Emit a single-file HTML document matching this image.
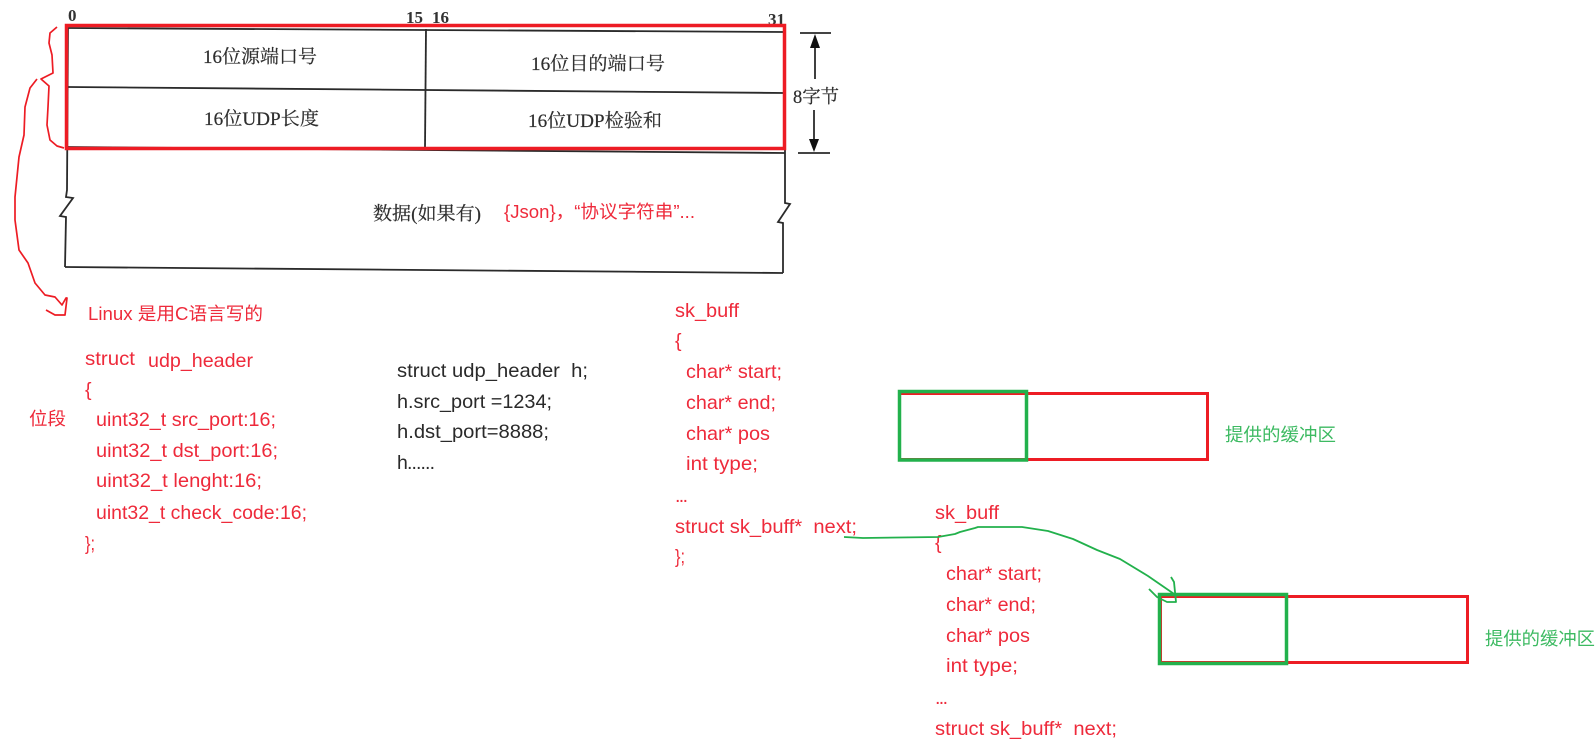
<!DOCTYPE html>
<html><head><meta charset="utf-8">
<style>
html,body{margin:0;padding:0;background:#fff;width:1595px;height:741px;overflow:hidden}
svg{display:block}
.t text{font-family:"Liberation Sans","Noto Sans CJK SC",sans-serif;font-size:19.5px;fill:#ee2a3a}
.t text.c{font-size:18px}
.k text{fill:#2a2a2a}
.g text{fill:#3dba62;font-size:18px}
.s text{font-family:"Liberation Serif","Noto Serif CJK SC",serif;font-size:18.5px;fill:#2e2e2e;stroke:#2e2e2e;stroke-width:.2}
.n text{font-family:"Liberation Serif",serif;font-weight:bold;font-size:17px;fill:#333}
</style></head><body>
<svg width="1595" height="741" viewBox="0 0 1595 741" xmlns="http://www.w3.org/2000/svg">
<defs><filter id="b" x="-2%" y="-2%" width="104%" height="104%"><feGaussianBlur stdDeviation="0.35"/></filter></defs>

<g fill="none" stroke="#2a2a2a" stroke-width="1.8" filter="url(#b)">
<path d="M68 28L785 32"/><path d="M68 87L785 93"/><path d="M67 147L785 153"/><path d="M65 267L783 273"/>
<path d="M68 28L67 190L66 197L73 198L60 216L66 217L65 267"/>
<path d="M785 32L785 203L790 204L778 222L783 223L783 273"/>
<path d="M426 29L425 148"/>
<path d="M800 33H831"/><path d="M798 153H830"/>
<path d="M815 40V79"/><path d="M814 110V145"/>
</g>
<path d="M815 34L810 48H820Z" fill="#111"/><path d="M814 152L809 139H819Z" fill="#111"/>

<g class="n" filter="url(#b)">
<text x="68" y="21">0</text>
<text x="406" y="23">15</text>
<text x="432" y="23">16</text>
<text x="768" y="25">31</text>
</g>
<g class="s" filter="url(#b)">
<text x="203" y="63" textLength="114" lengthAdjust="spacingAndGlyphs">16位源端口号</text>
<text x="204" y="125" textLength="115" lengthAdjust="spacingAndGlyphs">16位UDP长度</text>
<text x="531" y="70" textLength="134" lengthAdjust="spacingAndGlyphs">16位目的端口号</text>
<text x="528" y="127" textLength="134" lengthAdjust="spacingAndGlyphs">16位UDP检验和</text>
<text x="373" y="220" textLength="108" lengthAdjust="spacingAndGlyphs">数据(如果有)</text>
<text x="793" y="103" textLength="46" lengthAdjust="spacingAndGlyphs">8字节</text>
</g>

<rect x="66.5" y="25.5" width="718" height="123" fill="none" stroke="#ed1c24" stroke-width="3.5"/>

<g fill="none" stroke="#ed1c24" stroke-width="1.7" stroke-linejoin="round">
<path d="M57 27L50 33L49 43L52 55L53 73L41 79L49 86L48 107L47 125L50 140L57 146L64 148"/>
<path d="M37 79L30 88L25 107L24 135L19 157L15 197L15 220L19 250L28 263L35 283L45 295L55 297L62 305L66 298L67 298L65 315L55 315L46 310"/>
</g>

<g class="t" filter="url(#b)">
<text class="c" x="504" y="218" textLength="191" lengthAdjust="spacingAndGlyphs">{Json}，“协议字符串”...</text>
<text class="c" x="88" y="320" textLength="175" lengthAdjust="spacingAndGlyphs">Linux 是用C语言写的</text>
<text class="c" x="29" y="425" textLength="37" lengthAdjust="spacingAndGlyphs">位段</text>
<text x="85" y="365" textLength="50" lengthAdjust="spacingAndGlyphs">struct</text>
<text x="148" y="367" textLength="105" lengthAdjust="spacingAndGlyphs">udp_header</text>
<text x="85" y="396">{</text>
<text x="96" y="426" textLength="180" lengthAdjust="spacingAndGlyphs">uint32_t src_port:16;</text>
<text x="96" y="457" textLength="182" lengthAdjust="spacingAndGlyphs">uint32_t dst_port:16;</text>
<text x="96" y="487" textLength="166" lengthAdjust="spacingAndGlyphs">uint32_t lenght:16;</text>
<text x="96" y="519" textLength="211" lengthAdjust="spacingAndGlyphs">uint32_t check_code:16;</text>
<text x="85" y="550" textLength="10" lengthAdjust="spacingAndGlyphs">};</text>

<text x="675" y="317" textLength="64" lengthAdjust="spacingAndGlyphs">sk_buff</text>
<text x="675" y="347">{</text>
<text x="686" y="378" textLength="96" lengthAdjust="spacingAndGlyphs">char* start;</text>
<text x="686" y="409" textLength="90" lengthAdjust="spacingAndGlyphs">char* end;</text>
<text x="686" y="440" textLength="84" lengthAdjust="spacingAndGlyphs">char* pos</text>
<text x="686" y="470" textLength="72" lengthAdjust="spacingAndGlyphs">int type;</text>
<text x="675" y="502" textLength="13" lengthAdjust="spacing">...</text>
<text x="675" y="533" textLength="182" lengthAdjust="spacingAndGlyphs" xml:space="preserve">struct sk_buff*  next;</text>
<text x="675" y="563" textLength="10" lengthAdjust="spacingAndGlyphs">};</text>

<text x="935" y="519" textLength="64" lengthAdjust="spacingAndGlyphs">sk_buff</text>
<text x="935" y="549">{</text>
<text x="946" y="580" textLength="96" lengthAdjust="spacingAndGlyphs">char* start;</text>
<text x="946" y="611" textLength="90" lengthAdjust="spacingAndGlyphs">char* end;</text>
<text x="946" y="642" textLength="84" lengthAdjust="spacingAndGlyphs">char* pos</text>
<text x="946" y="672" textLength="72" lengthAdjust="spacingAndGlyphs">int type;</text>
<text x="935" y="704" textLength="13" lengthAdjust="spacing">...</text>
<text x="935" y="735" textLength="182" lengthAdjust="spacingAndGlyphs" xml:space="preserve">struct sk_buff*  next;</text>
</g>

<g class="t k" filter="url(#b)">
<text x="397" y="377" textLength="191" lengthAdjust="spacingAndGlyphs" xml:space="preserve">struct udp_header  h;</text>
<text x="397" y="408" textLength="155" lengthAdjust="spacingAndGlyphs">h.src_port =1234;</text>
<text x="397" y="438" textLength="152" lengthAdjust="spacingAndGlyphs">h.dst_port=8888;</text>
<text x="397" y="469" textLength="38" lengthAdjust="spacing">h......</text>
</g>

<rect x="899.5" y="393.5" width="308" height="66" fill="none" stroke="#ed1c24" stroke-width="3"/>
<rect x="899.5" y="391.5" width="127" height="68.5" fill="none" stroke="#22b14c" stroke-width="3.5"/>
<rect x="1160.5" y="596.5" width="307" height="66" fill="none" stroke="#ed1c24" stroke-width="3"/>
<rect x="1159.5" y="594.5" width="127" height="69" fill="none" stroke="#22b14c" stroke-width="3.5"/>

<g class="t g" filter="url(#b)">
<text x="1225" y="441" textLength="111" lengthAdjust="spacingAndGlyphs">提供的缓冲区</text>
<text x="1485" y="645" textLength="110" lengthAdjust="spacingAndGlyphs">提供的缓冲区</text>
</g>

<g fill="none" stroke="#22b14c" stroke-width="1.8" stroke-linejoin="round">
<path d="M844 537L863 538L938 537L955 534L960 532L975 528L978 527L1022 527L1048 531L1073 539L1097 550L1120 559L1148 576L1177 596"/>
<path d="M1171 577L1174 582L1176 602L1167 602L1157 597L1149 589"/>
</g>
</svg>
</body></html>
